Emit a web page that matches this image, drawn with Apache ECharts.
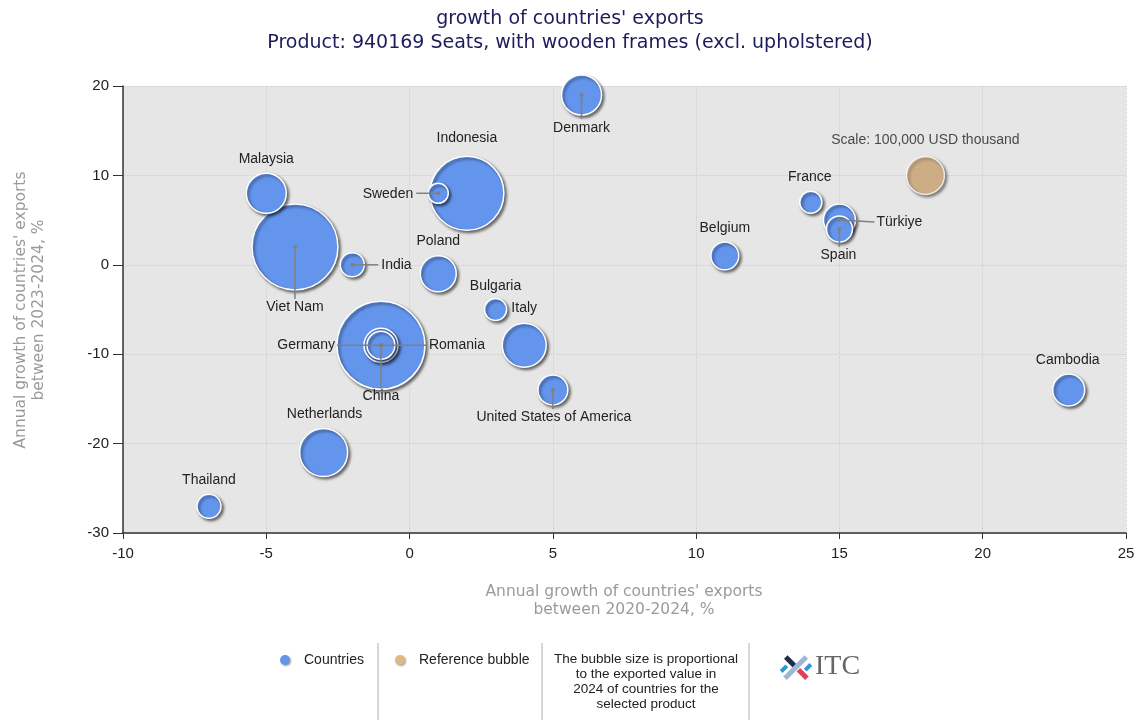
<!DOCTYPE html>
<html><head><meta charset="utf-8">
<script src="https://cdn.jsdelivr.net/npm/echarts@6/dist/echarts.min.js"></script>
<style>html,body{margin:0;padding:0;background:#fff}#c{width:1140px;height:720px}</style>
</head><body><div id="c"></div>
<script>
// ---- data ----
const countries = ['Denmark','Malaysia','Viet Nam','India','Indonesia','Sweden','Poland','Bulgaria','Italy','China','Germany','Romania','United States of America','Netherlands','Thailand','Cambodia','Belgium','France','Türkiye','Spain'];
const growth2020_2024 = [6,-5,-4,-2,2,1,1,3,4,-1,-1,-1,5,-3,-7,23,11,14,15,15];
const growth2023_2024 = [19,8,2,0,8,8,-1,-5,-9,-9,-9,-9,-14,-21,-27,-14,1,7,5,4];
const exportValue2024 = [111000,111000,512000,40000,379000,28000,90000,34000,134000,536000,80000,54000,62000,160000,40000,71000,54000,34000,71000,47000]; // USD thousand
const referenceBubble = {label:'Scale: 100,000 USD thousand', x:18, y:10, value:100000};
const xTicks = {min:-10, max:25, interval:5};
const yTicks = {min:-30, max:20, interval:10};

// ---- label placement (pixel offsets, style only) ----
const labelPos = {
  'Denmark':{dx:0,dy:33,line:[0,24]},
  'Malaysia':{dx:0,dy:-34},
  'Viet Nam':{dx:0,dy:60,line:[0,52]},
  'India':{dx:29,dy:0,align:'left',line:[26,0]},
  'Indonesia':{dx:0,dy:-55},
  'Sweden':{dx:-25,dy:1,align:'right',line:[-22,0]},
  'Poland':{dx:0,dy:-33},
  'Bulgaria':{dx:0,dy:-23},
  'Italy':{dx:0,dy:-37},
  'China':{dx:0,dy:51,line:[0,43]},
  'Germany':{dx:-46,dy:0,align:'right',line:[-44,0]},
  'Romania':{dx:48,dy:0,align:'left',line:[46,0]},
  'United States of America':{dx:1,dy:27,line:[0,19]},
  'Netherlands':{dx:1,dy:-38},
  'Thailand':{dx:0,dy:-26},
  'Cambodia':{dx:-1,dy:-30},
  'Belgium':{dx:0,dy:-28},
  'France':{dx:-1,dy:-25},
  'Türkiye':{dx:37,dy:2,align:'left',line:[35,2]},
  'Spain':{dx:-1,dy:26,line:[0,18]}
};

const refR = 19; // px radius of reference bubble
const sizeOf = v => 2*refR*Math.sqrt(v/referenceBubble.value);

const idx = countries.map((c,i)=>i).sort((a,b)=>exportValue2024[b]-exportValue2024[a]);
const bubbleData = idx.map(i=>({name:countries[i], value:[growth2020_2024[i],growth2023_2024[i],exportValue2024[i]]}));
const labelData = countries.map((c,i)=>[growth2020_2024[i],growth2023_2024[i]]);

const FONT = '14px "Liberation Sans", Arial, sans-serif';
const shadow = {shadowColor:'rgba(0,0,0,0.55)', shadowBlur:3, shadowOffsetX:2, shadowOffsetY:2};
const smallShadow = {shadowColor:'rgba(0,0,0,0.4)', shadowBlur:2, shadowOffsetX:1, shadowOffsetY:1};
const NAMEFONT = '15.5px "DejaVu Sans", Verdana, sans-serif';

const chart = echarts.init(document.getElementById('c'));
chart.setOption({
  animation:false,
  title:{text:"growth of countries' exports\nProduct: 940169 Seats, with wooden frames (excl. upholstered)",
    left:'center', top:2,
    textStyle:{fontFamily:'"DejaVu Sans", Verdana, sans-serif', fontSize:19, fontWeight:'normal', color:'#1c1c5c', lineHeight:24}},
  grid:{left:123, right:14, top:86, bottom:187, show:true, backgroundColor:'#e6e6e6', borderWidth:0},
  xAxis:{type:'value', min:xTicks.min, max:xTicks.max, interval:xTicks.interval,
    axisLine:{show:true, onZero:false, lineStyle:{color:'#333', width:1.5}},
    axisTick:{show:true, length:6, lineStyle:{color:'#333'}},
    axisLabel:{fontSize:15, color:'#222', margin:13, fontFamily:'"Liberation Sans", Arial, sans-serif'},
    splitLine:{show:true, lineStyle:{color:'#cfcfcf', type:'dotted'}}},
  yAxis:{type:'value', min:yTicks.min, max:yTicks.max, interval:yTicks.interval,
    axisLine:{show:true, onZero:false, lineStyle:{color:'#333', width:1.5}},
    axisTick:{show:true, length:10, lineStyle:{color:'#333'}},
    axisLabel:{fontSize:15, color:'#222', margin:14, fontFamily:'"Liberation Sans", Arial, sans-serif'},
    splitLine:{show:true, lineStyle:{color:'#cfcfcf', type:'dotted'}}},
  series:[
    {type:'scatter', name:'Countries', clip:false, data:bubbleData,
      symbolSize:v=>sizeOf(v[2]),
      itemStyle:Object.assign({color:'#6495ed', borderColor:'#fff', borderWidth:1.5, opacity:1}, shadow),
      z:2},
    {type:'scatter', name:'Reference bubble', clip:false,
      data:[{name:referenceBubble.label, value:[referenceBubble.x, referenceBubble.y, referenceBubble.value]}],
      symbolSize:v=>sizeOf(v[2]),
      itemStyle:Object.assign({color:'#deb887', borderColor:'#fff', borderWidth:1.5}, shadow),
      label:{show:true, position:'top', distance:9, formatter:'{b}', color:'#222', fontSize:14, fontFamily:'"Liberation Sans", Arial, sans-serif'},
      z:2},
    {type:'custom', clip:false, data:labelData, z:5, silent:true,
      renderItem:function(params, api){
        const name = countries[params.dataIndex];
        const p = api.coord([api.value(0), api.value(1)]);
        const L = labelPos[name] || {dx:0,dy:-25};
        const children = [];
        if (L.line){
          children.push({type:'line', shape:{x1:p[0],y1:p[1],x2:p[0]+L.line[0],y2:p[1]+L.line[1]}, style:{stroke:'#808080', lineWidth:1.5}});
          children.push({type:'circle', shape:{cx:p[0],cy:p[1],r:2}, style:{fill:'#808080'}});
        }
        children.push({type:'text', style:{text:name, x:p[0]+L.dx, y:p[1]+L.dy, align:L.align||'center', verticalAlign:'middle', fill:'#222', font:FONT}});
        return {type:'group', children:children};
      }}
  ],
  graphic:[
    {type:'text', x:624, y:583, style:{text:"Annual growth of countries' exports\nbetween 2020-2024, %", align:'center', fill:'#9a9a9a', font:NAMEFONT, lineHeight:18}},
    {type:'text', x:30, y:310, rotation:Math.PI/2, style:{text:"Annual growth of countries' exports\nbetween 2023-2024, %", align:'center', verticalAlign:'middle', fill:'#9a9a9a', font:NAMEFONT, lineHeight:18}},
    // legend
    {type:'circle', shape:{cx:285, cy:660, r:5}, style:Object.assign({fill:'#6495ed'}, smallShadow)},
    {type:'text', x:304, y:660, style:{text:'Countries', verticalAlign:'middle', fill:'#222', font:FONT}},
    {type:'line', shape:{x1:378, y1:643, x2:378, y2:720}, style:{stroke:'#b0b0b0', lineWidth:1}},
    {type:'circle', shape:{cx:400, cy:660, r:5}, style:Object.assign({fill:'#deb887'}, smallShadow)},
    {type:'text', x:419, y:660, style:{text:'Reference bubble', verticalAlign:'middle', fill:'#222', font:FONT}},
    {type:'line', shape:{x1:542, y1:643, x2:542, y2:720}, style:{stroke:'#b0b0b0', lineWidth:1}},
    {type:'text', x:646, y:652, style:{text:'The bubble size is proportional\nto the exported value in\n2024 of countries for the\nselected product', align:'center', verticalAlign:'top', fill:'#222', font:'13.5px "Liberation Sans", Arial, sans-serif', lineHeight:15}},
    {type:'line', shape:{x1:749, y1:643, x2:749, y2:720}, style:{stroke:'#b0b0b0', lineWidth:1}},
    // ITC logo
    {type:'group', x:796, y:668, children:[
      {type:'rect', shape:{x:-15, y:-3, width:30, height:5}, rotation:Math.PI/4, style:{fill:'#9cb8d8'}},
      {type:'rect', shape:{x:-15, y:-3, width:12, height:5}, rotation:-Math.PI/4, style:{fill:'#1c2e4a'}},
      {type:'rect', shape:{x:3, y:-3, width:12, height:5}, rotation:-Math.PI/4, style:{fill:'#e0405a'}},
      {type:'rect', shape:{x:-13, y:-10, width:8, height:4}, rotation:Math.PI/4, style:{fill:'#2a9ad8'}},
      {type:'rect', shape:{x:5, y:6, width:8, height:4}, rotation:Math.PI/4, style:{fill:'#2a9ad8'}}
    ]},
    {type:'text', x:815, y:667, style:{text:'ITC', verticalAlign:'middle', fill:'#666', font:'28px "Liberation Serif", "Times New Roman", serif'}}
  ]
});
</script></body></html>
